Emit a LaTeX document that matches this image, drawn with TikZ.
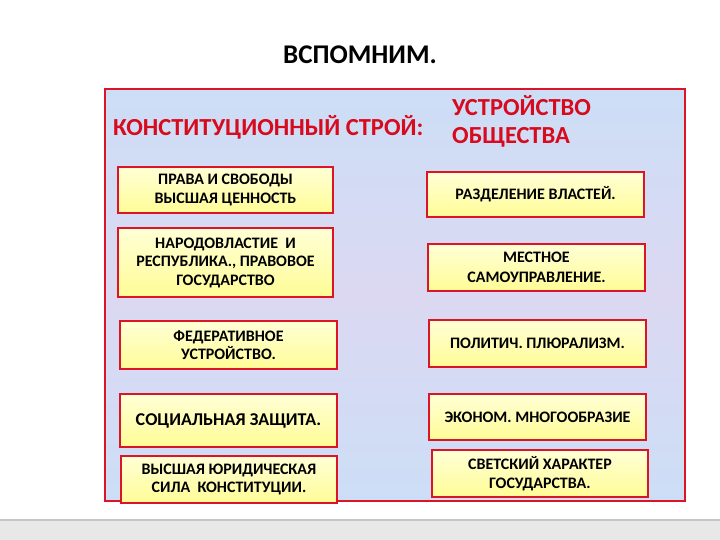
\documentclass[tikz,border=0pt]{standalone}
\usepackage{fontspec}
\setmainfont{Carlito}
\definecolor{frame}{RGB}{220,20,40}
\definecolor{bgblue}{RGB}{204,222,246}
\definecolor{bgpink}{RGB}{220,216,242}
\definecolor{boxtop}{RGB}{255,255,214}
\definecolor{boxbot}{RGB}{255,252,150}
\definecolor{headred}{RGB}{215,10,30}
\tikzset{
  item/.style={draw=frame, line width=1.8pt, top color=boxtop, bottom color=boxbot,
    align=center, font=\bfseries\fontsize{16}{18.5}\selectfont, inner sep=2pt,
    minimum width=217pt, minimum height=47pt},
  head/.style={text=headred, font=\bfseries\fontsize{24.5}{28}\selectfont, inner sep=0pt}
}
\begin{document}
\begin{tikzpicture}[x=1pt,y=-1pt]
\useasboundingbox (0,0) rectangle (720,540);
\fill[white] (0,0) rectangle (720,540);
% footer band
\fill[gray!18] (0,520) rectangle (720,540);
\draw[gray!45, line width=1.2pt] (0,520) -- (720,520);
% frame
\path[left color=bgblue, right color=bgblue, middle color=bgpink, shading angle=0]
  (105,89) rectangle (685,501);
\draw[frame, line width=1.6pt] (105,89) rectangle (685,501);
% title
\node[font=\bfseries\fontsize{27}{30}\selectfont, inner sep=0pt] (title) at (360,55) {ВСПОМНИМ.};
\node[head, anchor=west] (hl) at (113,127) {КОНСТИТУЦИОННЫЙ СТРОЙ:};
\node[head, anchor=west, align=left] (hr) at (452,121) {УСТРОЙСТВО\\ОБЩЕСТВА};
% left column
\node[item, minimum width=215pt, minimum height=46pt] (l1) at (225.5,190) {ПРАВА И СВОБОДЫ\\ВЫСШАЯ ЦЕННОСТЬ};
\node[item, minimum width=215pt, minimum height=69pt] (l2) at (225.5,262.5) {НАРОДОВЛАСТИЕ \ И\\РЕСПУБЛИКА., ПРАВОВОЕ\\ГОСУДАРСТВО};
\node[item, minimum height=48pt] (l3) at (228.5,345) {ФЕДЕРАТИВНОЕ\\УСТРОЙСТВО.};
\node[item, minimum height=53pt, font=\bfseries\fontsize{18}{20}\selectfont] (l4) at (228.5,420.5) {СОЦИАЛЬНАЯ ЗАЩИТА.};
\node[item, minimum width=216pt] (l5) at (229,479.5) {ВЫСШАЯ ЮРИДИЧЕСКАЯ\\СИЛА \ КОНСТИТУЦИИ.};
% right column
\node[item, minimum height=45pt] (r1) at (535.5,194.5) {РАЗДЕЛЕНИЕ ВЛАСТЕЙ.};
\node[item, font=\bfseries\fontsize{16}{20}\selectfont] (r2) at (536.5,267.5) {МЕСТНОЕ\\САМОУПРАВЛЕНИЕ.};
\node[item] (r3) at (537.5,343.5) {ПОЛИТИЧ. ПЛЮРАЛИЗМ.};
\node[item, minimum height=46pt] (r4) at (537.5,417) {ЭКОНОМ. МНОГООБРАЗИЕ};
\node[item, minimum width=216pt] (r5) at (540,473.5) {СВЕТСКИЙ ХАРАКТЕР\\ГОСУДАРСТВА.};
\end{tikzpicture}
\end{document}
